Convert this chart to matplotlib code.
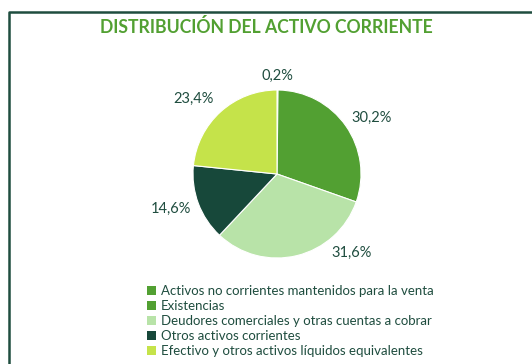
import matplotlib.pyplot as plt
from matplotlib.lines import Line2D
from matplotlib.patches import Patch

plt.rcParams['font.family'] = ['Lato', 'DejaVu Sans']

# Data
categorias = ['Activos no corrientes mantenidos para la venta',
              'Existencias',
              'Deudores comerciales y otras cuentas a cobrar',
              'Otros activos corrientes',
              'Efectivo y otros activos líquidos equivalentes']
valores = [0.2, 30.2, 31.6, 14.6, 23.4]
colores = ['#52a032', '#52a032', '#b8e3a8', '#17483a', '#c5e34a']

# label positions, in pie radii from the centre
pos_etiquetas = [(0.0, 1.17), (1.13, 0.67), (0.89, -0.94), (-1.26, -0.42), (-0.99, 0.90)]

texto = '#1f4d3f'
verde = '#52a032'

fig = plt.figure(figsize=(5.32, 3.64), dpi=100)
W, H = 532, 364

# frame lines (left and top)
fig.add_artist(Line2D([9 / W, 9 / W, 1], [0, 1 - 12 / H, 1 - 12 / H],
                      transform=fig.transFigure, color='#1f4d3f', lw=1.8))

fig.text(266 / W, 1 - 27 / H, 'DISTRIBUCIÓN DEL ACTIVO CORRIENTE',
         ha='center', va='center', color=verde, fontsize=12.7, fontweight='bold')

# pie axes: radius 84 px, centred at (277, 174)
r = 84
lim = 1.6
side = 2 * r * lim
cx, cy = 277, 174
ax = fig.add_axes([(cx - side / 2) / W, 1 - (cy + side / 2) / H, side / W, side / H])
wedges, _ = ax.pie(valores, colors=colores, startangle=90, counterclock=False,
                   wedgeprops=dict(edgecolor='white', linewidth=0.8))
ax.set_xlim(-lim, lim)
ax.set_ylim(-lim, lim)
ax.set_aspect('equal')
ax.axis('off')

for v, (x, y) in zip(valores, pos_etiquetas):
    ax.text(x, y, f'{v:.1f}%'.replace('.', ','), ha='center', va='center',
            color=texto, fontsize=10.5)

handles = [Patch(facecolor=c, edgecolor='none') for c in colores]
fig.legend(handles, categorias, loc='upper left', bbox_to_anchor=(142 / W, 1 - 280 / H),
           frameon=False, fontsize=9.5, labelcolor=texto, handlelength=0.65,
           handleheight=0.65, handletextpad=0.4, labelspacing=0.22, borderaxespad=0)

fig.savefig('out.png', dpi=100)
